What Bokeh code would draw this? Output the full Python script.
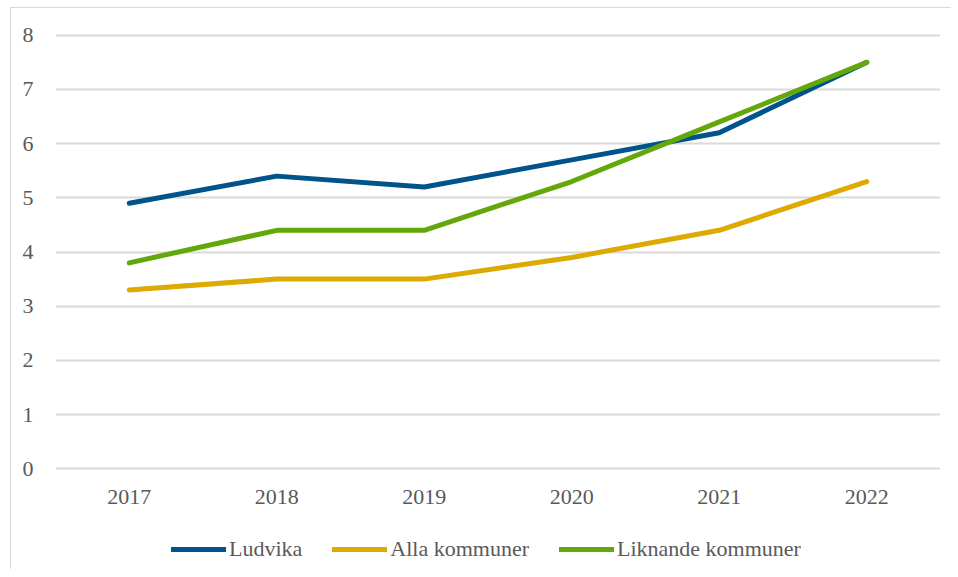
from bokeh.plotting import figure
from bokeh.layouts import column
from bokeh.models import FixedTicker, Legend, LegendItem, Range1d
from bokeh.embed import file_html
from bokeh.resources import INLINE

years = ["2017", "2018", "2019", "2020", "2021", "2022"]
ludvika = [4.9, 5.4, 5.2, 5.7, 6.2, 7.5]
alla = [3.3, 3.5, 3.5, 3.9, 4.4, 5.3]
liknande = [3.8, 4.4, 4.4, 5.3, 6.4, 7.5]
names = ["Ludvika", "Alla kommuner", "Liknande kommuner"]
colors = ["#00538b", "#dcaa00", "#64a70b"]

FONT = "Liberation Serif"

p = figure(x_range=years, y_range=Range1d(-0.05, 8.05), width=940, height=512,
           output_backend="svg", toolbar_location=None,
           min_border_left=44, min_border_right=11, min_border_top=24, min_border_bottom=49)
p.outline_line_color = None
p.background_fill_color = "white"

for vals, c in zip([ludvika, alla, liknande], colors):
    p.line(years, vals, line_color=c, line_width=5, line_cap="round", line_join="round")

p.yaxis.ticker = FixedTicker(ticks=[0, 1, 2, 3, 4, 5, 6, 7, 8])
for ax in [p.xaxis[0], p.yaxis[0]]:
    ax.axis_line_color = None
    ax.major_tick_line_color = None
    ax.minor_tick_line_color = None
    ax.major_label_text_font = FONT
    ax.major_label_text_font_size = "22px"
    ax.major_label_text_color = "#595959"
p.yaxis.major_label_standoff = 16
p.xaxis.major_label_standoff = 12

p.xgrid.grid_line_color = None
p.ygrid.grid_line_color = "#d9d9d9"
p.ygrid.grid_line_width = 2

# legend strip below the chart (its own series copies sit outside the visible range)
p2 = figure(width=940, height=49, x_range=Range1d(0, 1), y_range=Range1d(0, 1),
            output_backend="svg", toolbar_location=None,
            x_axis_type=None, y_axis_type=None,
            min_border_left=0, min_border_right=0, min_border_top=0, min_border_bottom=0)
p2.outline_line_color = None
p2.xgrid.grid_line_color = None
p2.ygrid.grid_line_color = None
leg_renderers = [p2.line([-2, -1], [-2, -2], line_color=c, line_width=5, line_cap="round")
                 for c in colors]

legend = Legend(items=[LegendItem(label=n, renderers=[r]) for n, r in zip(names, leg_renderers)],
                orientation="horizontal", location=(116, 7),
                glyph_width=55, glyph_height=22, label_standoff=3, spacing=30,
                label_text_font=FONT, label_text_font_size="22px",
                label_text_color="#595959", border_line_color=None,
                background_fill_alpha=0, padding=0, margin=0)
p2.add_layout(legend, "center")

layout = column(p, p2, spacing=0,
                styles={"border-left": "1px solid #d9d9d9", "border-top": "1px solid #d9d9d9",
                        "margin-left": "10px", "margin-top": "7px"})

open("out.html", "w").write(file_html(layout, INLINE))
